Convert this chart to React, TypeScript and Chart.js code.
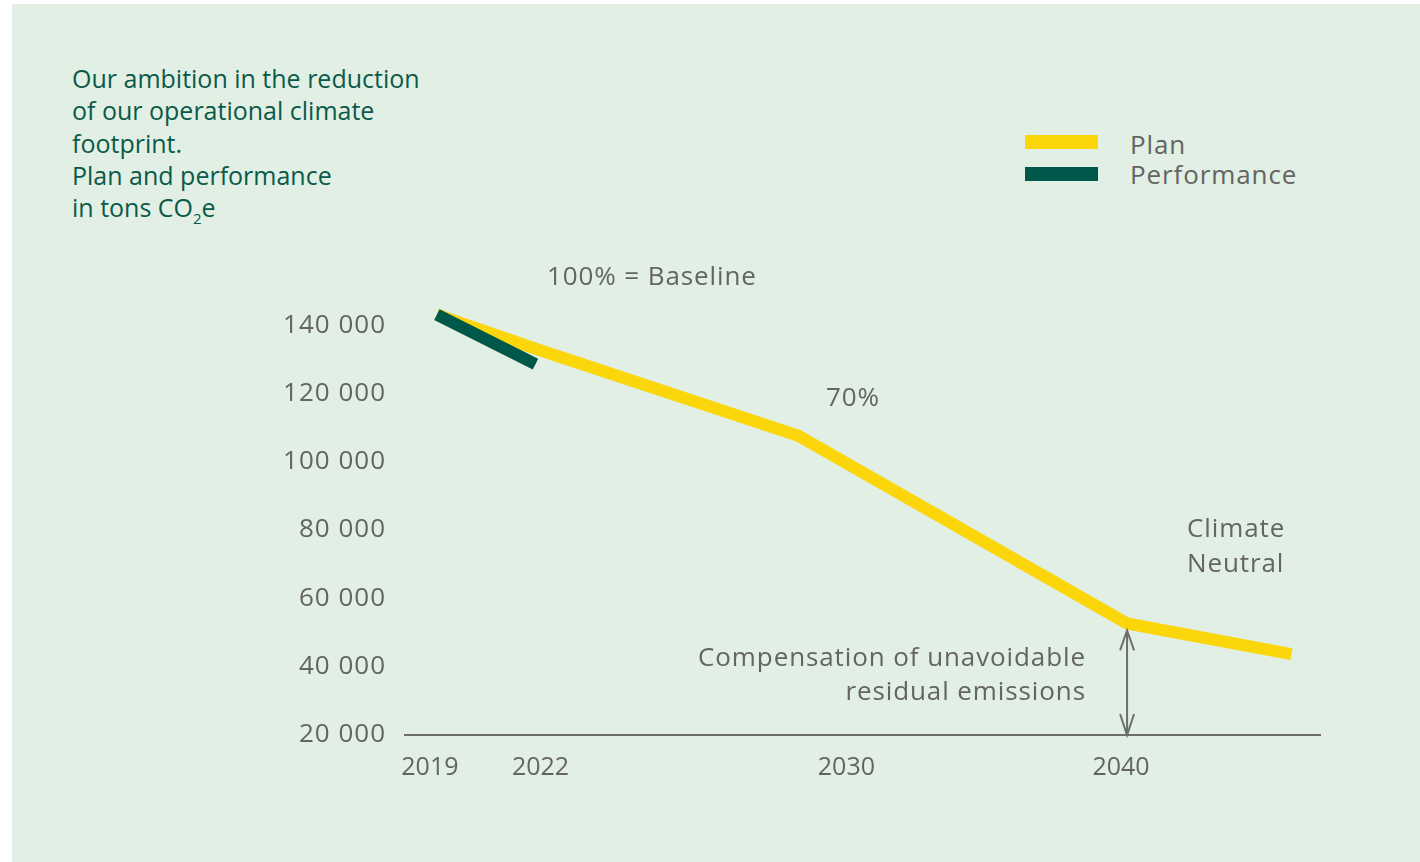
import React, { useEffect, useRef } from 'react';
import { Chart, registerables } from 'chart.js';

Chart.register(...registerables);

// ---- data ----
const planYears = [2019, 2022, 2030, 2040, 2045];
const planValues = [142500, 132500, 107000, 52000, 43000];
const performanceYears = [2019, 2022];
const performanceValues = [142500, 128000];
const xTickYears = [2019, 2022, 2030, 2040];
const xTickLabels = ['2019', '2022', '2030', '2040'];
const yTickValues = [20000, 40000, 60000, 80000, 100000, 120000, 140000];
const seriesLabels = ['Plan', 'Performance'];
const compensationYear = 2040;
const titleLines = [
  'Our ambition in the reduction',
  'of our operational climate',
  'footprint.',
  'Plan and performance',
];

// ---- style ----
const FONT = '"Open Sans", sans-serif';
const YELLOW = '#fad60a';
const GREEN = '#00584a';
const TITLE = '#0b5a48';
const GRAY = '#646461';
const LINE_GRAY = '#6d6e6b';
const BG = '#e1efe5';
const labelNudge = [-7, 5, 48, -6];

const overlayPlugin = {
  id: 'overlay',
  beforeDraw(chart: any) {
    chart.ctx.letterSpacing = '1px';
  },
  afterDraw(chart: any) {
    const { ctx, scales } = chart;
    const x = scales.x;
    const y = scales.y;
    ctx.save();
    // x tick labels
    ctx.letterSpacing = '0px';
    ctx.font = `25px ${FONT}`;
    ctx.fillStyle = GRAY;
    ctx.textAlign = 'center';
    ctx.textBaseline = 'middle';
    xTickYears.forEach((yr, i) => {
      ctx.fillText(xTickLabels[i], x.getPixelForValue(yr) + labelNudge[i], x.top + 33);
    });
    // double arrow at compensation year
    const idx = planYears.indexOf(compensationYear);
    const ax = x.getPixelForValue(compensationYear);
    const top = y.getPixelForValue(planValues[idx]) + 7;
    const bottom = y.bottom;
    ctx.strokeStyle = LINE_GRAY;
    ctx.lineWidth = 2;
    ctx.beginPath();
    ctx.moveTo(ax, top);
    ctx.lineTo(ax, bottom);
    ctx.moveTo(ax - 7, top + 20);
    ctx.lineTo(ax, top);
    ctx.lineTo(ax + 7, top + 20);
    ctx.moveTo(ax - 7, bottom - 21);
    ctx.lineTo(ax, bottom);
    ctx.lineTo(ax + 7, bottom - 21);
    ctx.stroke();
    ctx.restore();
  },
};

function formatThousands(v: number): string {
  return String(v).replace(/\B(?=(\d{3})+(?!\d))/g, ' ');
}

const textBase: React.CSSProperties = {
  position: 'absolute',
  fontFamily: FONT,
  fontSize: 26,
  letterSpacing: '0.9px',
  color: GRAY,
  whiteSpace: 'nowrap',
  margin: 0,
};

export default function App() {
  const canvasRef = useRef<HTMLCanvasElement | null>(null);

  useEffect(() => {
    if (!canvasRef.current) return;
    const chart = new Chart(canvasRef.current, {
      type: 'line',
      data: {
        datasets: [
          {
            label: seriesLabels[1],
            data: performanceYears.map((yr, i) => ({ x: yr, y: performanceValues[i] })),
            borderColor: GREEN,
            backgroundColor: GREEN,
            borderWidth: 12,
            pointRadius: 0,
            tension: 0,
            borderCapStyle: 'butt',
            borderJoinStyle: 'miter',
            clip: false,
          },
          {
            label: seriesLabels[0],
            data: planYears.map((yr, i) => ({ x: yr, y: planValues[i] })),
            borderColor: YELLOW,
            backgroundColor: YELLOW,
            borderWidth: 12,
            pointRadius: 0,
            tension: 0,
            borderCapStyle: 'butt',
            borderJoinStyle: 'miter',
            clip: false,
          },
        ],
      },
      plugins: [overlayPlugin],
      options: {
        animation: false,
        responsive: false,
        devicePixelRatio: 1,
        layout: { padding: { top: 289, right: 100, left: 0, bottom: 0 } },
        plugins: {
          legend: { display: false },
          tooltip: { enabled: false },
          title: { display: false },
        },
        scales: {
          x: {
            type: 'linear',
            min: 2018.03,
            max: 2045.87,
            grid: { display: false, drawTicks: false },
            border: { display: true, color: LINE_GRAY, width: 2 },
            ticks: { display: false },
            afterBuildTicks: (s: any) => {
              s.ticks = xTickYears.map((v) => ({ value: v }));
            },
            afterFit: (s: any) => {
              s.height = 127;
            },
          },
          y: {
            type: 'linear',
            min: 19300,
            max: 150000,
            grid: { display: false, drawTicks: false },
            border: { display: false },
            ticks: {
              padding: 19,
              labelOffset: 2,
              color: GRAY,
              font: { family: FONT, size: 26 },
              callback: (v: any) => formatThousands(Number(v)),
            },
            afterBuildTicks: (s: any) => {
              s.ticks = yTickValues.map((v) => ({ value: v }));
            },
            afterFit: (s: any) => {
              s.width = 405;
            },
          },
        },
      },
    } as any);
    return () => chart.destroy();
  }, []);

  return (
    <div style={{ position: 'absolute', left: 0, top: 0, width: 1420, height: 862, overflow: 'hidden' }}>
      <div style={{ position: 'absolute', left: 12, top: 4, width: 1408, height: 858, background: BG }} />
      <div
        style={{
          ...textBase,
          fontSize: 25,
          letterSpacing: '0px',
          left: 72,
          top: 62,
          color: TITLE,
          lineHeight: '32.25px',
        }}
      >
        {titleLines.map((l, i) => (
          <div key={i}>{l}</div>
        ))}
        <div>
          in tons CO<span style={{ fontSize: 15, position: 'relative', top: 7 }}>2</span>e
        </div>
      </div>
      {/* legend */}
      <div style={{ position: 'absolute', left: 1025, top: 135, width: 73, height: 14, background: YELLOW }} />
      <div style={{ position: 'absolute', left: 1025, top: 167, width: 73, height: 14, background: GREEN }} />
      <div style={{ ...textBase, left: 1130, top: 129, lineHeight: '30px' }}>{seriesLabels[0]}</div>
      <div style={{ ...textBase, left: 1130, top: 159, lineHeight: '30px' }}>{seriesLabels[1]}</div>
      <canvas
        ref={canvasRef}
        width={1420}
        height={862}
        style={{ position: 'absolute', left: 0, top: 0, width: 1420, height: 862, display: 'block' }}
      />
      {/* annotations */}
      <div style={{ ...textBase, left: 547, top: 260, lineHeight: '30px' }}>100% = Baseline</div>
      <div style={{ ...textBase, left: 826, top: 381, lineHeight: '30px' }}>70%</div>
      <div style={{ ...textBase, left: 1187, top: 510, lineHeight: '35px' }}>
        <div>Climate</div>
        <div>Neutral</div>
      </div>
      <div style={{ ...textBase, left: 0, width: 1086, top: 639, lineHeight: '34px', textAlign: 'right' }}>
        <div>Compensation of unavoidable</div>
        <div>residual emissions</div>
      </div>
    </div>
  );
}
